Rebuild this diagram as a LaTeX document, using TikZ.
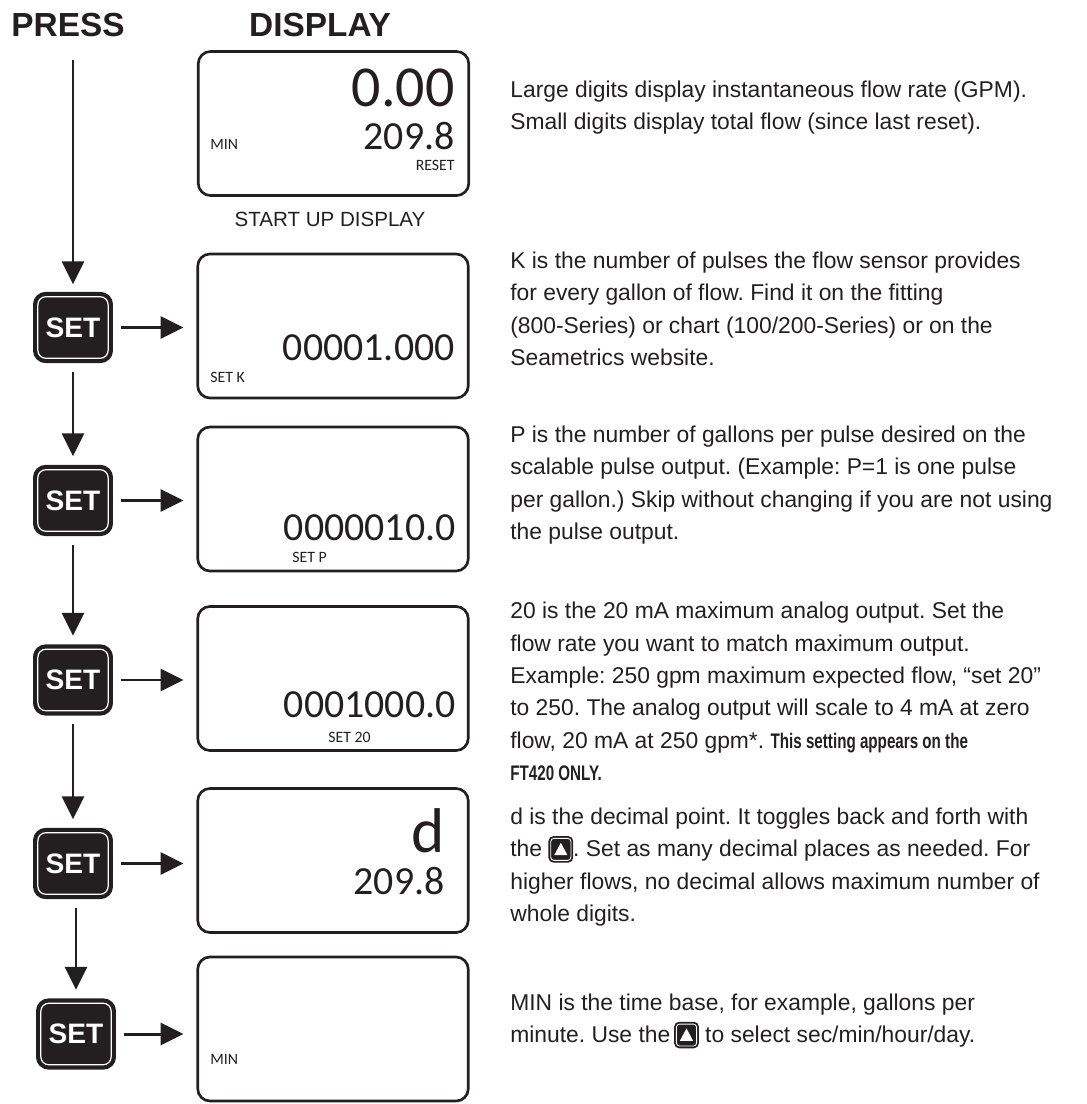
\documentclass[tikz,border=0pt]{standalone}
\usepackage{fontspec}
\setmainfont{Liberation Sans}
\newfontfamily\lcdfont{Carlito}
\newfontfamily\narrowbold{Liberation Sans}[FakeStretch=0.72]
\usetikzlibrary{arrows.meta, positioning}
\definecolor{ink}{HTML}{231F20}
\frenchspacing
\newcommand{\warnfont}{\narrowbold\bfseries\fontsize{12}{18.4}\selectfont}

% small up-arrow key used inside the notes
\newcommand{\upkey}{\tikz[baseline=0pt]{%
  \draw[fill=ink, draw=white, line width=0.5pt, preaction={draw=ink, line width=2.6pt}, rounded corners=1.8pt] (0pt,-2pt) rectangle (11.5pt,10.5pt);
  \fill[white] (2pt,1pt) -- (9.5pt,1pt) -- (5.75pt,8pt) -- cycle;}}

\begin{document}
\begin{tikzpicture}[x=0.02cm, y=-0.02cm, >={Triangle[length=13pt, width=12.5pt]},
  lcd/.style={draw=ink, line width=1.5pt, rounded corners=7pt, minimum width=154pt, minimum height=82pt, inner sep=0pt},
  setkey/.style={fill=ink, draw=white, line width=0.7pt, preaction={draw=ink, line width=5.5pt}, rounded corners=4.5pt,
    minimum width=40pt, minimum height=35pt, inner sep=0pt, text=white, font=\bfseries\fontsize{16}{16}\selectfont},
  flow/.style={->, draw=ink, line width=1.7pt},
  big/.style={font=\lcdfont\fontsize{33}{33}\selectfont, text=ink, inner sep=0pt},
  huge/.style={font=\lcdfont\fontsize{36}{36}\selectfont, text=ink, inner sep=0pt},
  mid/.style={font=\lcdfont\fontsize{22.7}{22.7}\selectfont, text=ink, inner sep=0pt},
  tag/.style={font=\lcdfont\fontsize{9}{9}\selectfont, text=ink, inner sep=0pt},
  head/.style={font=\bfseries\fontsize{19}{19}\selectfont, text=ink, inner sep=0pt, anchor=base},
  note/.style={anchor=base west, align=left, inner sep=0pt, text=ink, font=\fontsize{13}{18.4}\selectfont}
]
\useasboundingbox (0,0) rectangle (1087,1104);

\node[head] (press) at (68,37) {PRESS};
\node[head] (display) at (320,37) {DISPLAY};

% displays
\node[lcd] (d1) at (333.5,123.5) {};
\foreach \i/\y in {2/326,3/499,4/678.5,5/860.5,6/1029}
  \node[lcd] (d\i) at (333,\y) {};
\node[text=ink, inner sep=0pt, anchor=base, font=\fontsize{11.7}{11.7}\selectfont] (startup) at (330,227) {START UP DISPLAY};

% keys
\foreach \i/\x/\y in {1/73/327.5,2/73/500.5,3/73/680,4/73/863.5,5/76/1034}
  \node[setkey] (b\i) at (\x,\y) {SET};

% arrows
\coordinate (top) at (73,60);
\draw[flow, shorten >=6.8pt] (top) -- (b1.north);
\foreach \i [count=\j from 2] in {1,...,3}
  \draw[flow, shorten <=7.4pt, shorten >=7.4pt] (b\i.south) -- (b\j.north);
\draw[flow, shorten <=7.4pt, shorten >=7.4pt] (b4.south -| b5) -- (b5.north);
\foreach \i [count=\j from 2] in {1,...,5}
  \draw[flow, shorten <=6.8pt, shorten >=7.4pt] (b\i.east) -- (b\i.east -| d\j.west);

% display contents
\node[big, anchor=base east] (rate0) at (455,107) {0.00};
\node[mid, anchor=base east] (total0) at (455,150) {209.8};
\node[tag, anchor=base west] (min0) at (210,150) {MIN};
\node[tag, anchor=base east] (reset) at (455,171) {RESET};
\node[mid, anchor=base east] (kval) at (455,360) {00001.000};
\node[tag, anchor=base west] (ktag) at (210,382) {SET K};
\node[mid, anchor=base east] (pval) at (456,540) {0000010.0};
\node[tag, anchor=base west] (ptag) at (292,562) {SET P};
\node[mid, anchor=base east] (aval) at (456,717) {0001000.0};
\node[tag, anchor=base west] (atag) at (328,742) {SET 20};
\node[huge, anchor=base east] (dval) at (445,852) {d};
\node[mid, anchor=base east] (dtotal) at (445,894) {209.8};
\node[tag, anchor=base west] (mtag) at (210,1064) {MIN};

% notes (anchored at the baseline of their last line)
\node[note] (n1) at (510,129.5) {Large digits display instantaneous flow rate (GPM).\\
  Small digits display total flow (since last reset).};
\node[note] (n2) at (510,365.5) {K is the number of pulses the flow sensor provides\\
  for every gallon of flow. Find it on the fitting\\
  (800-Series) or chart (100/200-Series) or on the\\
  Seametrics website.};
\node[note] (n3) at (510,539.5) {P is the number of gallons per pulse desired on the\\
  scalable pulse output. (Example: P=1 is one pulse\\
  per gallon.) Skip without changing if you are not using\\
  the pulse output.};
\node[note] (n4) at (510,780.5) {20 is the 20 mA maximum analog output. Set the\\
  flow rate you want to match maximum output.\\
  Example: 250 gpm maximum expected flow, “set 20”\\
  to 250. The analog output will scale to 4 mA at zero\\
  flow, 20 mA at 250 gpm*. {\warnfont This setting appears on the}\\
  {\warnfont FT420 ONLY.}};
\node[note] (n5) at (510,921.5) {d is the decimal point. It toggles back and forth with\\
  the \upkey. Set as many decimal places as needed. For\\
  higher flows, no decimal allows maximum number of\\
  whole digits.};
\node[note] (n6) at (510,1042.5) {MIN is the time base, for example, gallons per\\
  minute. Use the\,\upkey\ to select sec/min/hour/day.};
\end{tikzpicture}
\end{document}
